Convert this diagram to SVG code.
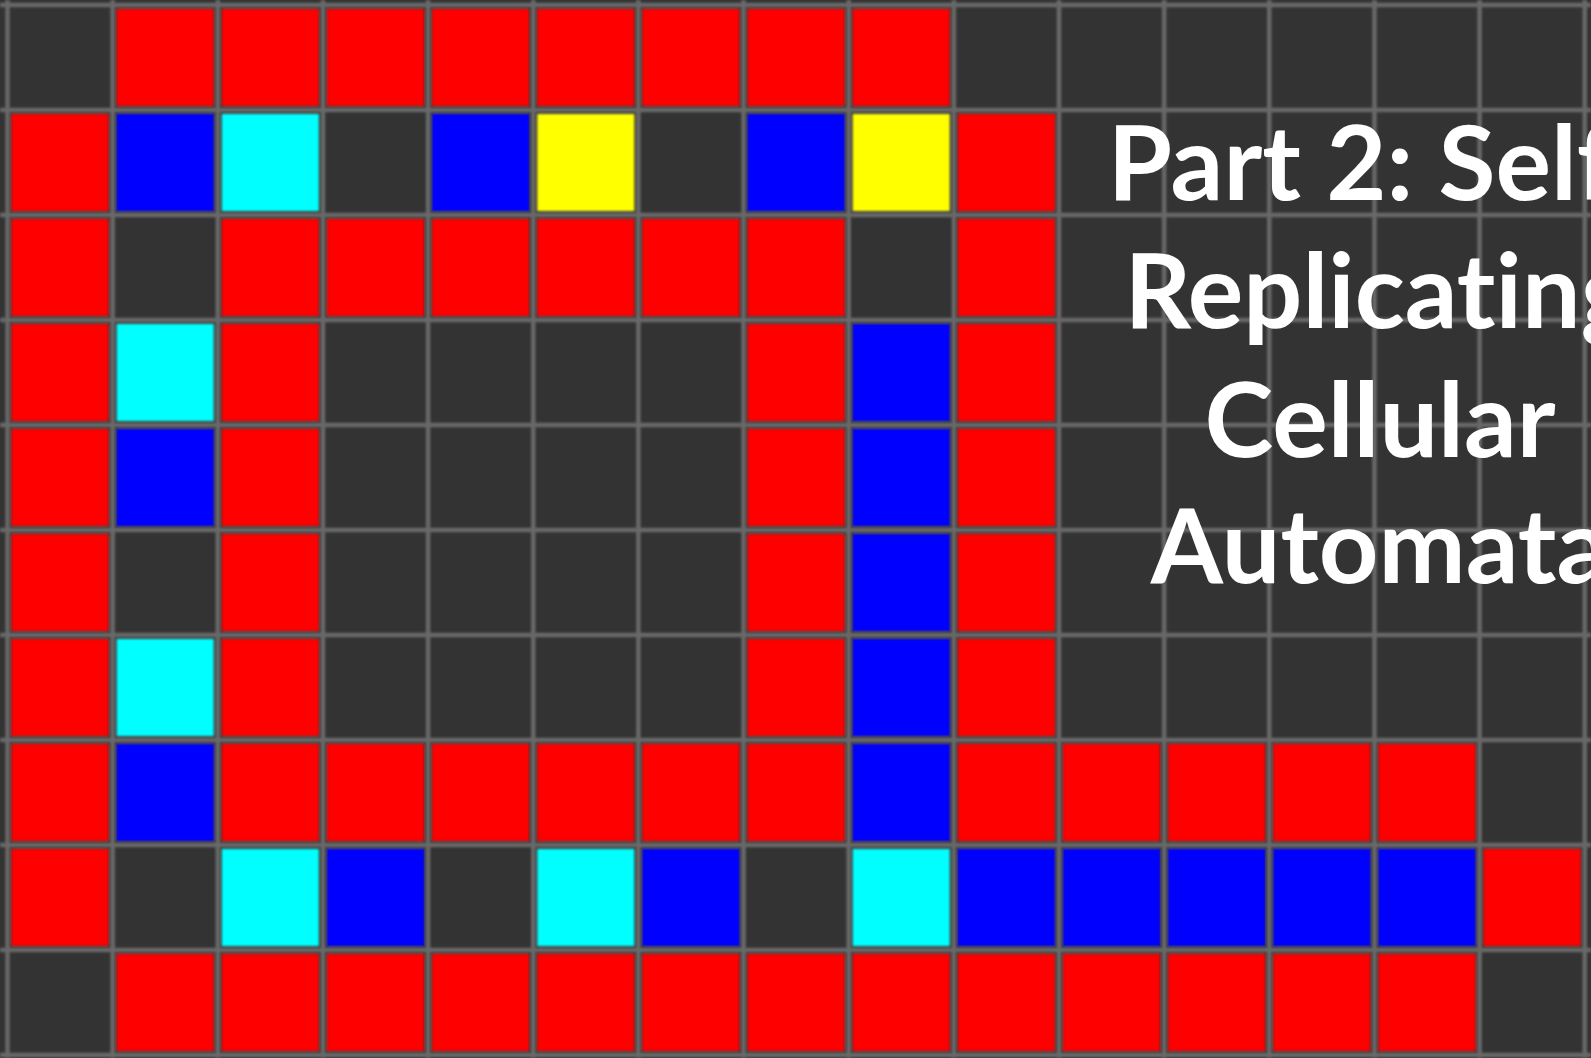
<svg xmlns="http://www.w3.org/2000/svg" width="1591" height="1058" viewBox="0 0 1591 1058">
<style>
.g{stroke:#686868;stroke-width:4.5}
.r{fill:#ff0000}.b{fill:#0000ff}.c{fill:#00ffff}.y{fill:#ffff00}
.t{font-family:Lato,"Open Sans","DejaVu Sans",sans-serif;font-weight:bold;font-size:104px;fill:#ffffff;text-anchor:middle;font-variant-ligatures:none}
</style>
<defs>
<filter id="soft" x="0" y="0" width="1" height="1"><feGaussianBlur stdDeviation="0.9"/></filter>
</defs>
<rect width="1591" height="1058" fill="#333333"/>
<g filter="url(#soft)">
<g id="grid">
<path class="g" d="M7.5 0V1058M112.65 0V1058M217.8 0V1058M322.95 0V1058M428.1 0V1058M533.25 0V1058M638.4 0V1058M743.55 0V1058M848.7 0V1058M953.85 0V1058M1059 0V1058M1164.15 0V1058M1269.3 0V1058M1374.45 0V1058M1479.6 0V1058M1584.75 0V1058"/>
<path class="g" d="M0 5H1591M0 110H1591M0 215H1591M0 320H1591M0 425H1591M0 530H1591M0 635H1591M0 740H1591M0 845H1591M0 950H1591M0 1055H1591"/>
</g>
<g id="row0">
<rect class="r" x="116.7" y="9" width="97" height="97"/><rect class="r" x="221.8" y="9" width="97" height="97"/><rect class="r" x="327" y="9" width="97" height="97"/><rect class="r" x="432.1" y="9" width="97" height="97"/><rect class="r" x="537.3" y="9" width="97" height="97"/><rect class="r" x="642.4" y="9" width="97" height="97"/><rect class="r" x="747.6" y="9" width="97" height="97"/><rect class="r" x="852.7" y="9" width="97" height="97"/>
</g>
<g id="row1">
<rect class="r" x="11.5" y="114" width="97" height="97"/><rect class="b" x="116.7" y="114" width="97" height="97"/><rect class="c" x="221.8" y="114" width="97" height="97"/><rect class="b" x="432.1" y="114" width="97" height="97"/><rect class="y" x="537.3" y="114" width="97" height="97"/><rect class="b" x="747.6" y="114" width="97" height="97"/><rect class="y" x="852.7" y="114" width="97" height="97"/><rect class="r" x="957.9" y="114" width="97" height="97"/>
</g>
<g id="row2">
<rect class="r" x="11.5" y="219" width="97" height="97"/><rect class="r" x="221.8" y="219" width="97" height="97"/><rect class="r" x="327" y="219" width="97" height="97"/><rect class="r" x="432.1" y="219" width="97" height="97"/><rect class="r" x="537.3" y="219" width="97" height="97"/><rect class="r" x="642.4" y="219" width="97" height="97"/><rect class="r" x="747.6" y="219" width="97" height="97"/><rect class="r" x="957.9" y="219" width="97" height="97"/>
</g>
<g id="row3">
<rect class="r" x="11.5" y="324" width="97" height="97"/><rect class="c" x="116.7" y="324" width="97" height="97"/><rect class="r" x="221.8" y="324" width="97" height="97"/><rect class="r" x="747.6" y="324" width="97" height="97"/><rect class="b" x="852.7" y="324" width="97" height="97"/><rect class="r" x="957.9" y="324" width="97" height="97"/>
</g>
<g id="row4">
<rect class="r" x="11.5" y="429" width="97" height="97"/><rect class="b" x="116.7" y="429" width="97" height="97"/><rect class="r" x="221.8" y="429" width="97" height="97"/><rect class="r" x="747.6" y="429" width="97" height="97"/><rect class="b" x="852.7" y="429" width="97" height="97"/><rect class="r" x="957.9" y="429" width="97" height="97"/>
</g>
<g id="row5">
<rect class="r" x="11.5" y="534" width="97" height="97"/><rect class="r" x="221.8" y="534" width="97" height="97"/><rect class="r" x="747.6" y="534" width="97" height="97"/><rect class="b" x="852.7" y="534" width="97" height="97"/><rect class="r" x="957.9" y="534" width="97" height="97"/>
</g>
<g id="row6">
<rect class="r" x="11.5" y="639" width="97" height="97"/><rect class="c" x="116.7" y="639" width="97" height="97"/><rect class="r" x="221.8" y="639" width="97" height="97"/><rect class="r" x="747.6" y="639" width="97" height="97"/><rect class="b" x="852.7" y="639" width="97" height="97"/><rect class="r" x="957.9" y="639" width="97" height="97"/>
</g>
<g id="row7">
<rect class="r" x="11.5" y="744" width="97" height="97"/><rect class="b" x="116.7" y="744" width="97" height="97"/><rect class="r" x="221.8" y="744" width="97" height="97"/><rect class="r" x="327" y="744" width="97" height="97"/><rect class="r" x="432.1" y="744" width="97" height="97"/><rect class="r" x="537.3" y="744" width="97" height="97"/><rect class="r" x="642.4" y="744" width="97" height="97"/><rect class="r" x="747.6" y="744" width="97" height="97"/><rect class="b" x="852.7" y="744" width="97" height="97"/><rect class="r" x="957.9" y="744" width="97" height="97"/><rect class="r" x="1063" y="744" width="97" height="97"/><rect class="r" x="1168.2" y="744" width="97" height="97"/><rect class="r" x="1273.3" y="744" width="97" height="97"/><rect class="r" x="1378.5" y="744" width="97" height="97"/>
</g>
<g id="row8">
<rect class="r" x="11.5" y="849" width="97" height="97"/><rect class="c" x="221.8" y="849" width="97" height="97"/><rect class="b" x="327" y="849" width="97" height="97"/><rect class="c" x="537.3" y="849" width="97" height="97"/><rect class="b" x="642.4" y="849" width="97" height="97"/><rect class="c" x="852.7" y="849" width="97" height="97"/><rect class="b" x="957.9" y="849" width="97" height="97"/><rect class="b" x="1063" y="849" width="97" height="97"/><rect class="b" x="1168.2" y="849" width="97" height="97"/><rect class="b" x="1273.3" y="849" width="97" height="97"/><rect class="b" x="1378.5" y="849" width="97" height="97"/><rect class="r" x="1483.6" y="849" width="97" height="97"/>
</g>
<g id="row9">
<rect class="r" x="116.7" y="954" width="97" height="97"/><rect class="r" x="221.8" y="954" width="97" height="97"/><rect class="r" x="327" y="954" width="97" height="97"/><rect class="r" x="432.1" y="954" width="97" height="97"/><rect class="r" x="537.3" y="954" width="97" height="97"/><rect class="r" x="642.4" y="954" width="97" height="97"/><rect class="r" x="747.6" y="954" width="97" height="97"/><rect class="r" x="852.7" y="954" width="97" height="97"/><rect class="r" x="957.9" y="954" width="97" height="97"/><rect class="r" x="1063" y="954" width="97" height="97"/><rect class="r" x="1168.2" y="954" width="97" height="97"/><rect class="r" x="1273.3" y="954" width="97" height="97"/><rect class="r" x="1378.5" y="954" width="97" height="97"/>
</g>
</g>
<g id="title">
<text class="t" x="1380" y="200">Part 2: Self-</text>
<text class="t" x="1380" y="328">Replicating</text>
<text class="t" x="1380" y="457">Cellular</text>
<text class="t" x="1380" y="583">Automata</text>
</g>
</svg>
